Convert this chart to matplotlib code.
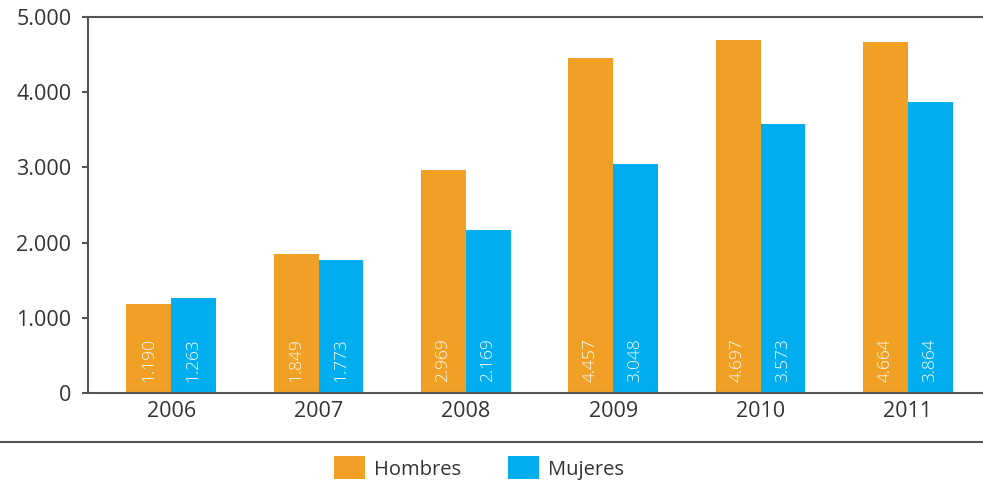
import matplotlib
matplotlib.use("Agg")
import matplotlib.pyplot as plt
import numpy as np
from matplotlib.patches import Patch
from matplotlib.lines import Line2D

years = ["2006", "2007", "2008", "2009", "2010", "2011"]
hombres = [1190, 1849, 2969, 4457, 4697, 4664]
mujeres = [1263, 1773, 2169, 3048, 3573, 3864]
yticks = [0, 1000, 2000, 3000, 4000, 5000]
ytick_labels = ["0", "1.000", "2.000", "3.000", "4.000", "5.000"]
hombres_labels = ["1.190", "1.849", "2.969", "4.457", "4.697", "4.664"]
mujeres_labels = ["1.263", "1.773", "2.169", "3.048", "3.573", "3.864"]

ORANGE = "#F0A024"
BLUE = "#00AEEF"
TXT = "#333333"
LINE = "#555555"

plt.rcParams['font.family'] = ['Open Sans', 'DejaVu Sans']

W, H = 983, 482
fig = plt.figure(figsize=(W / 100, H / 100), dpi=100)
ax = fig.add_axes([88 / W, 1 - 393 / H, 1 - 88 / W, (393 - 17) / H])

x = np.arange(len(years))
bw = 0.305
ax.bar(x - bw / 2, hombres, width=bw, color=ORANGE, linewidth=0)
ax.bar(x + bw / 2, mujeres, width=bw, color=BLUE, linewidth=0)

for xi, lab in zip(x - bw / 2, hombres_labels):
    ax.annotate(lab, (xi, 0), xytext=(0, 8), textcoords="offset points",
                rotation=90, ha="center", va="bottom", color="white",
                fontsize=12.5, fontweight="light")
for xi, lab in zip(x + bw / 2, mujeres_labels):
    ax.annotate(lab, (xi, 0), xytext=(0, 8), textcoords="offset points",
                rotation=90, ha="center", va="bottom", color="white",
                fontsize=12.5, fontweight="light")

ax.set_xlim(-0.565, 5.51)
ax.set_ylim(0, 5000)
ax.set_yticks(yticks)
ax.set_yticklabels(ytick_labels)
ax.set_xticks(x)
ax.set_xticklabels(years)
ax.tick_params(axis="y", length=4, width=1.5, color=LINE, labelsize=15.5, labelcolor=TXT, pad=8)
ax.tick_params(axis="x", length=0, labelsize=15.5, labelcolor=TXT, pad=6)
for s in ["left", "top", "bottom"]:
    ax.spines[s].set_color(LINE)
    ax.spines[s].set_linewidth(1.5)
ax.spines["right"].set_visible(False)

# separator line
fig.add_artist(Line2D([0, 1], [1 - 442 / H, 1 - 442 / H], transform=fig.transFigure,
                      color=LINE, linewidth=1.5))

handles = [Patch(facecolor=ORANGE, label="Hombres"), Patch(facecolor=BLUE, label="Mujeres")]
fig.legend(handles=handles, loc="center", bbox_to_anchor=(479 / W, 1 - 468 / H),
           ncol=2, frameon=False, fontsize=14.5, handlelength=1.55, handleheight=1.35,
           handletextpad=0.45, columnspacing=2.3, borderpad=0, labelcolor=TXT)

fig.savefig("out.png", dpi=100)
